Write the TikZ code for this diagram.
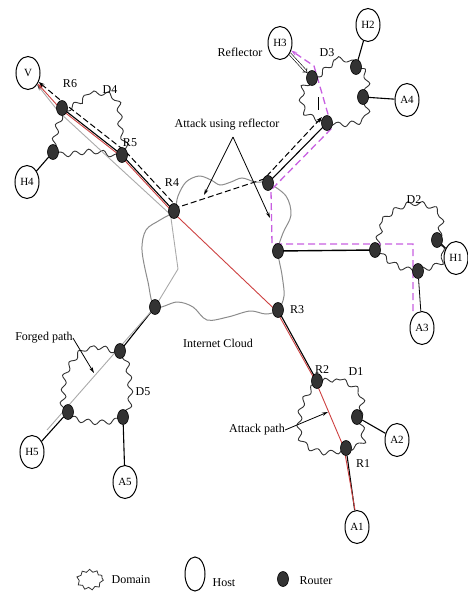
\documentclass[tikz,border=0pt]{standalone}
\usepackage{fontspec}
\setmainfont{Liberation Serif}
\usetikzlibrary{arrows.meta,shapes.geometric,decorations.pathmorphing,backgrounds,calc}
\definecolor{attackred}{RGB}{205,65,65}
\definecolor{reflmag}{RGB}{200,95,225}
\definecolor{forgedgray}{RGB}{170,170,170}
\begin{document}
\begin{tikzpicture}[x=1pt,y=-1pt,
  font=\fontsize{12}{14}\selectfont,
  router/.style={ellipse,fill=black!80,draw=black,line width=0.6pt,minimum width=11pt,minimum height=15pt,inner sep=0pt},
  host/.style={ellipse,draw=black,line width=1pt,fill=white,minimum width=24pt,minimum height=33pt,inner sep=0pt,font=\fontsize{11}{12}\selectfont},
  lbl/.style={inner sep=0pt},
  link/.style={draw=black,line width=1.1pt},
  domainline/.style={draw=black!80,line width=0.9pt,decorate,decoration={snake,amplitude=2.4pt,segment length=14pt}},
  cloudline/.style={draw=black!45,line width=1pt},
  redpath/.style={draw=attackred,line width=0.9pt},
  reflpath/.style={draw=black,line width=1pt,dash pattern=on 6pt off 3pt},
  magpath/.style={draw=reflmag,line width=1.3pt,dash pattern=on 7pt off 4pt},
  forged/.style={draw=forgedgray,line width=0.9pt},
  pointer/.style={draw=black,line width=0.8pt,-{Stealth[length=6pt,width=3.5pt]}},
  tip/.style={-{Stealth[length=6pt,width=4pt]}}
]
\useasboundingbox (0,0) rectangle (467,595);

% ---------- routers ----------
\node[router] (R6)    at (62,108)  {};
\node[router] (D4h)   at (53,152)  {};
\node[router] (R5)    at (122,155) {};
\node[router] (R4)    at (174,211) {};
\node[router] (Ru)    at (268,183) {};
\node[router] (Rc)    at (278,251) {};
\node[router] (R3)    at (278,310) {};
\node[router] (Rcl)   at (155,307) {};
\node[router] (D3h3)  at (312,78)  {};
\node[router] (D3h2)  at (356,67)  {};
\node[router] (D3a4)  at (363,97)  {};
\node[router] (D3low) at (327,123) {};
\node[router] (D2l)   at (375,250) {};
\node[router] (D2h1)  at (437,240) {};
\node[router] (D2a3)  at (418,271) {};
\node[router] (R2)    at (317,381) {};
\node[router] (D1a2)  at (357,417) {};
\node[router] (R1)    at (346,448) {};
\node[router] (D5t)   at (120,351) {};
\node[router] (D5h5)  at (68,412)  {};
\node[router] (D5a5)  at (123,417) {};

% ---------- hosts ----------
\node[host] (V)  at (28,73)   {V};
\node[host] (H4) at (27,182)  {H4};
\node[host] (H3) at (280,43)  {H3};
\node[host] (H2) at (368,25)  {H2};
\node[host] (A4) at (407,100) {A4};
\node[host] (H1) at (456,258) {H1};
\node[host] (A3) at (422,328) {A3};
\node[host] (A2) at (397,440) {A2};
\node[host] (A1) at (357,527) {A1};
\node[host] (H5) at (32,452)  {H5};
\node[host] (A5) at (125,482) {A5};

% ---------- labels ----------
\node[lbl] at (70,84)   {R6};
\node[lbl] at (110,90)  {D4};
\node[lbl] at (130,143) {R5};
\node[lbl] at (172,183) {R4};
\node[lbl] at (297,310) {R3};
\node[lbl] at (322,370) {R2};
\node[lbl] at (356,372) {D1};
\node[lbl] at (363,464) {R1};
\node[lbl] at (143,392) {D5};
\node[lbl] at (414,200) {D2};
\node[lbl] at (327,53)  {D3};
\node[lbl] (refl) at (240,52)  {Reflector};
\node[lbl] (aur)  at (227,125) {Attack using reflector};
\node[lbl] (ic)   at (218,343) {Internet Cloud};
\node[lbl] (fp)   at (44,338)  {Forged path};
\node[lbl] (ap)   at (257,430) {Attack path};

% pointer ends
\coordinate (apex)  at (233,137);
\coordinate (tipL)  at (204,195);
\coordinate (tipR)  at (270,218);
\coordinate (fptip) at (94,373);
\coordinate (aptip) at (328,412);
\draw[pointer] (apex) -- (tipL);
\draw[pointer] (apex) -- (tipR);
\draw[pointer] (fp.east) -- (fptip);
\draw[pointer] (ap.east) -- (aptip);

% ---------- legend ----------
\draw[draw=black!80,line width=0.8pt,decorate,decoration={snake,amplitude=1.3pt,segment length=7pt}] (90,578) ellipse (12 and 9);
\node[lbl] (legDt) at (131,580) {Domain};
\node[host,minimum width=20pt,minimum height=34pt] (legH) at (195,574) {};
\node[lbl] (legHt) at (224,583) {Host};
\node[router,minimum width=11pt,minimum height=15pt] (legR) at (283,579) {};
\node[lbl] (legRt) at (316,581) {Router};

\begin{scope}[on background layer]
  % Internet cloud
  \draw[cloudline] plot[smooth cycle,tension=0.55] coordinates {
    (R4.center) (178,196) (186,182) (199,176) (211,180) (220,185) (231,182)
    (242,178) (255,182) (Ru.center) (286,196) (291,215) (283,233) (Rc.center)
    (282,275) (284,296) (R3.center) (266,314) (250,311) (228,317) (207,320)
    (193,307) (177,302) (Rcl.center) (148,282) (142,250) (146,230) (160,220)};

  % domains
  \draw[domainline] plot[smooth cycle,tension=0.6] coordinates {
    (R6.center) (90,94) (113,100) (117,130) (R5.center) (90,150) (D4h.center) (52,128)};
  \draw[domainline] plot[smooth cycle,tension=0.6] coordinates {
    (D3h3.center) (335,60) (D3h2.center) (364,80) (D3a4.center) (363,118) (345,124)
    (D3low.center) (302,112) (300,88)};
  \draw[domainline] plot[smooth cycle,tension=0.6] coordinates {
    (D2l.center) (382,222) (410,206) (437,215) (D2h1.center) (440,262) (D2a3.center) (395,268)};
  \draw[domainline] plot[smooth cycle,tension=0.6] coordinates {
    (R2.center) (340,380) (358,394) (D1a2.center) (360,440) (R1.center) (320,452)
    (298,440) (297,410) (305,392)};
  \draw[domainline] plot[smooth cycle,tension=0.6] coordinates {
    (D5t.center) (90,347) (70,370) (67,395) (D5h5.center) (95,420) (D5a5.center)
    (133,400) (130,362)};

  % physical links
  \draw[link] (D4h) -- (H4);
  \draw[link] (R6.center) -- (R5.center) -- (R4.center);
  \draw[link] (Ru.center) -- (D3low.center);
  \draw[link] (D3h2) -- (H2);
  \draw[link] (D3a4) -- (A4);
  \draw[link,line width=1.4pt] (Rc.center) -- (D2l.center);
  \draw[link] (D2h1) -- (H1);
  \draw[link,line width=0.8pt] (D2a3) -- (A3);
  \draw[link] (R3.center) -- (R2.center);
  \draw[link] (D1a2) -- (A2);
  \draw[link] (R1) -- (A1);
  \draw[link] (Rcl.center) -- (D5t.center);
  \draw[link] (D5h5) -- (H5);
  \draw[link] (D5a5) -- (A5);
  \coordinate (tk1) at (318,97);
  \coordinate (tk2) at (318,110);
  \draw[black,line width=0.8pt] (tk1) -- (tk2);

  % forged path
  \draw[forged,-{Stealth[length=6pt,width=4pt,color=black!75]}]
    ($(D5h5)+(-21,18)$) -- (Rcl.center) -- ($(R4)+(4,58)$)
    -- ([shift={(-3.5,3.6)}]R4.center) -- ([shift={(-3.5,3.6)}]R6.center) -- (V);

  % attack path
  \draw[redpath,tip]
    ([xshift=-2pt]A1.north) -- ([xshift=-2pt]R1.center) -- ([xshift=-1.5pt]R2.center)
    -- ([shift={(-1.5,1)}]R3.center) -- ([shift={(-1.2,1.2)}]R4.center)
    -- ([shift={(-1.2,1.2)}]R5.center) -- ([shift={(-1.2,1.2)}]R6.center) -- (V);

  % attack through the reflector
  \draw[reflpath,{Stealth[length=6pt,width=4pt]}-{Stealth[length=6pt,width=4pt]}]
    (V) -- ([shift={(3.5,-3.6)}]R6.center) -- ([shift={(3.5,-3.6)}]R5.center)
    -- ([shift={(3.5,-3.6)}]R4.center) -- ([shift={(-4,-4)}]Ru.center)
    -- ([shift={(-5,-6)}]D3low.center);
  \draw[magpath,-{Stealth[length=6pt,width=4pt]}]
    ($(D2a3)+(-5,40)$) -- ($(D2a3)+(-5,-27)$) -- ($(Rc)+(-6,-7)$)
    -- ($(Ru)+(3,7)$) -- ($(D3low)+(5,5)$) -- ($(D3h3)+(2,-12)$) -- (H3);
  \draw[black,line width=0.6pt,double,double distance=1.6pt,-{Implies}] (H3) -- (D3h3);
\end{scope}
\end{tikzpicture}
\end{document}
